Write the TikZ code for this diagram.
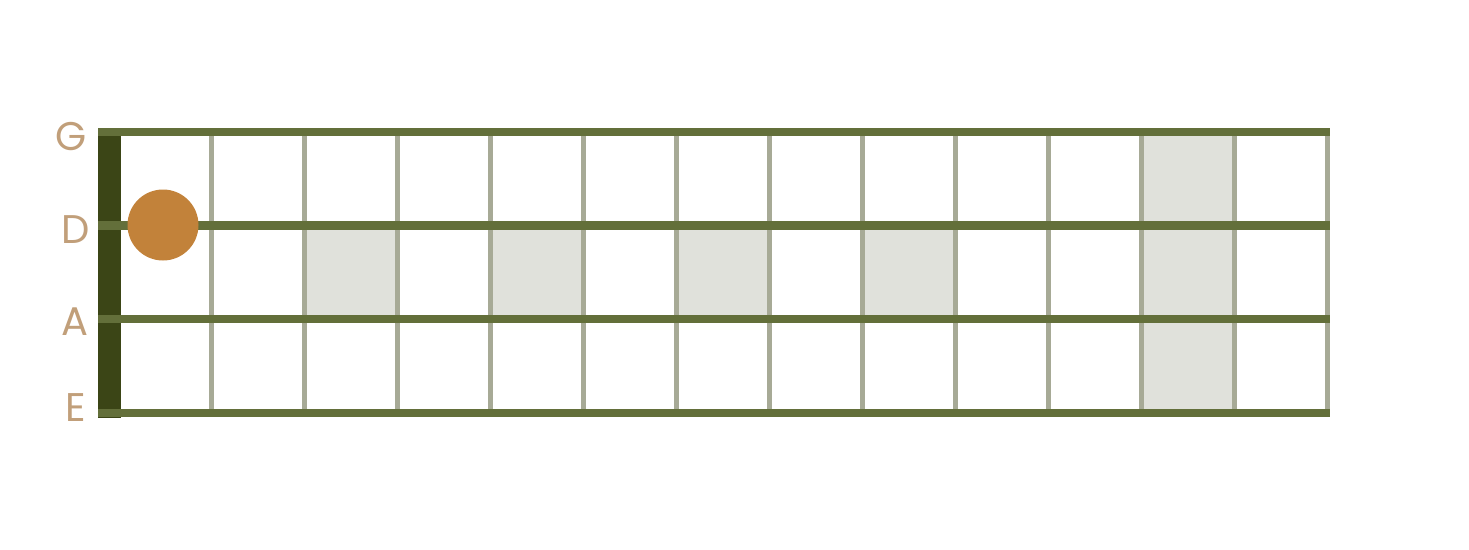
\documentclass[tikz,border=0pt]{standalone}
\usepackage{fontspec}
\setmainfont{Poppins}
\definecolor{strcol}{HTML}{636F3A}
\definecolor{nutcol}{HTML}{3B4516}
\definecolor{fretcol}{HTML}{A7AA96}
\definecolor{shadecol}{HTML}{E0E1DB}
\definecolor{dotcol}{HTML}{C2823A}
\definecolor{labcol}{HTML}{C19F7A}
\begin{document}
\begin{tikzpicture}[x=1pt,y=-1pt,
  stringline/.style={draw=strcol,line width=8.5pt},
  fretline/.style={draw=fretcol,line width=4.5pt},
  shadebox/.style={fill=shadecol},
  nutbar/.style={fill=nutcol},
  strlabel/.style={text=labcol,font=\fontsize{40}{40}\selectfont,inner sep=0pt,anchor=center},
  fingerdot/.style={circle,fill=dotcol,minimum size=71pt,inner sep=0pt}]
\useasboundingbox (0,0) rectangle (1469,549);
% shaded fret cells
\fill[shadebox] (304.5,225.5) rectangle (397.5,319);
\fill[shadebox] (490.5,225.5) rectangle (583.5,319);
\fill[shadebox] (676.5,225.5) rectangle (769.5,319);
\fill[shadebox] (862.5,225.5) rectangle (955.5,319);
\fill[shadebox] (1141.5,132) rectangle (1234.5,413);
% frets
\foreach \k in {0,...,12}{
  \draw[fretline] ({211.5+93*\k},132) -- ({211.5+93*\k},413);
}
% nut
\fill[nutbar] (98,128) rectangle (121,417.5);
% strings
\coordinate (gL) at (98,132);   \coordinate (gR) at (1330,132);
\coordinate (dL) at (98,225.5); \coordinate (dR) at (1330,225.5);
\coordinate (aL) at (98,319);   \coordinate (aR) at (1330,319);
\coordinate (eL) at (98,413);   \coordinate (eR) at (1330,413);
\draw[stringline] (gL) -- (gR);
\draw[stringline] (dL) -- (dR);
\draw[stringline] (aL) -- (aR);
\draw[stringline] (eL) -- (eR);
% finger dot
\node[fingerdot] (dot) at (163,225) {};
% labels
\node[strlabel] (labG) at (71.5,137) {G};
\node[strlabel] (labD) at (75.5,230) {D};
\node[strlabel] (labA) at (75,322) {A};
\node[strlabel] (labE) at (75.5,408) {E};
\end{tikzpicture}
\end{document}
